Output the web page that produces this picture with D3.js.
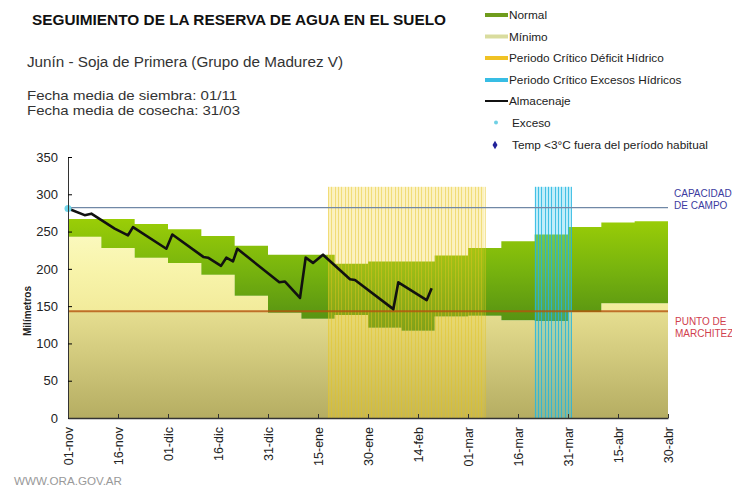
<!DOCTYPE html>
<html>
<head>
<meta charset="utf-8">
<script src="https://cdn.jsdelivr.net/npm/d3@7"></script>
<style>
  body { margin: 0; background: #fff; }
  text { font-family: "Liberation Sans", Arial, sans-serif; }
</style>
</head>
<body>
<svg id="chart" width="732" height="495"></svg>
<script>
// dias desde el 01-nov
const tickDays = [0, 15, 30, 45, 60, 75, 90, 105, 120, 135, 150, 165, 180];
const tickLabels = ['01-nov', '16-nov', '01-dic', '16-dic', '31-dic', '15-ene', '30-ene',
  '14-feb', '01-mar', '16-mar', '31-mar', '15-abr', '30-abr'];
const yTicks = [0, 50, 100, 150, 200, 250, 300, 350];

// bandas por decada
const decadas = [0, 10, 20, 30, 40, 50, 60, 70, 80, 90, 100, 110, 120, 130, 140, 150, 160, 170, 180];
const normalMax = [267, 267, 260, 253, 244, 231, 219, 219, 207, 210, 210, 218, 228, 237, 246, 256, 262, 264];
const normalMin = [243, 228, 215, 208, 192, 164, 141, 133, 138, 121, 117, 136, 137, 131, 130, 142, 154, 154];

// almacenaje
const almDias = [0, 5, 7, 14, 18, 19.5, 29.5, 31.3, 40.6, 42, 45.9, 47.5, 49.5, 50.8, 63.4, 65.1,
  69.6, 71.3, 73.5, 76.5, 84.6, 86.1, 97.6, 99.1, 107.6, 109.1];
const almValores = [281, 272, 274, 254, 245, 256, 227, 246, 216, 215, 204, 215, 210, 227, 182, 183,
  161, 215, 208, 219, 186, 185, 146, 182, 158, 174];

const excesoDias = [0];
const excesoValores = [281];

const capacidadCampo = 282;
const puntoMarchitez = 143;
const periodoDeficit = [78, 125];
const periodoExcesos = [140, 151];
const alturaPeriodo = 310;

const svg = d3.select('#chart');
const x = d3.scaleLinear().domain([0, 180]).range([68, 668]);
const y = d3.scaleLinear().domain([0, 350]).range([418, 157]);

// gradientes
const defs = svg.append('defs');
function gradient(id, stops) {
  const top = y(stops[0][0]), bottom = y(stops[stops.length - 1][0]);
  const g = defs.append('linearGradient').attr('id', id)
    .attr('gradientUnits', 'userSpaceOnUse')
    .attr('x1', 0).attr('x2', 0).attr('y1', top).attr('y2', bottom);
  stops.forEach(s => {
    g.append('stop').attr('offset', (y(s[0]) - top) / (bottom - top)).attr('stop-color', s[1]);
  });
}
gradient('gMin', [[275, '#fdfcc9'], [200, '#f8f4ab'], [144, '#f2eb9b'], [143, '#e6de90'], [0, '#b5ad62']]);
gradient('gNormal', [[270, '#9ccf06'], [200, '#78b40e'], [110, '#4d8914']]);

const bandas = decadas.map((d, i) => ({
  d: d,
  max: normalMax[Math.min(i, normalMax.length - 1)],
  min: normalMin[Math.min(i, normalMin.length - 1)]
}));

svg.append('path').datum(bandas)
  .attr('fill', 'url(#gMin)')
  .attr('d', d3.area().curve(d3.curveStepAfter)
    .x(b => x(b.d)).y0(y(0)).y1(b => y(b.min)));

svg.append('path').datum(bandas)
  .attr('fill', 'url(#gNormal)')
  .attr('d', d3.area().curve(d3.curveStepAfter)
    .x(b => x(b.d)).y0(b => y(b.min)).y1(b => y(b.max)));

// periodos criticos, una barra por dia
function periodo(rango, fill, line, fo, lo) {
  const dias = d3.range(rango[0], rango[1]);
  const g = svg.append('g');
  g.selectAll('rect').data(dias).enter().append('rect')
    .attr('x', d => x(d)).attr('y', y(alturaPeriodo))
    .attr('width', x(1) - x(0)).attr('height', y(0) - y(alturaPeriodo))
    .attr('fill', fill).attr('fill-opacity', fo);
  g.selectAll('line').data(dias.concat([rango[1]])).enter().append('line')
    .attr('x1', d => Math.round(x(d)) + 0.5).attr('x2', d => Math.round(x(d)) + 0.5)
    .attr('y1', y(alturaPeriodo)).attr('y2', y(0))
    .attr('stroke', line).attr('stroke-opacity', lo);
}
periodo(periodoDeficit, '#f2d02a', '#e4c41e', 0.3, 0.45);
periodo(periodoExcesos, '#3cc8ee', '#22b4e0', 0.33, 0.8);

// capacidad de campo / punto de marchitez
svg.append('line')
  .attr('x1', x(0)).attr('x2', x(180))
  .attr('y1', y(capacidadCampo)).attr('y2', y(capacidadCampo))
  .attr('stroke', '#7088a6').attr('stroke-width', 1.2);
svg.append('line')
  .attr('x1', x(0)).attr('x2', x(180))
  .attr('y1', y(puntoMarchitez)).attr('y2', y(puntoMarchitez))
  .attr('stroke', '#b5520e').attr('stroke-opacity', 0.8).attr('stroke-width', 2);

// almacenaje
svg.append('path').datum(almDias.map((d, i) => [d, almValores[i]]))
  .attr('fill', 'none').attr('stroke', '#111').attr('stroke-width', 2.6)
  .attr('stroke-linejoin', 'round')
  .attr('d', d3.line().x(p => x(p[0])).y(p => y(p[1])));

svg.selectAll('circle.exceso').data(excesoDias).enter().append('circle')
  .attr('class', 'exceso')
  .attr('cx', d => x(d)).attr('cy', (d, i) => y(excesoValores[i]))
  .attr('r', 3.5).attr('fill', '#6fd6ea');

// ejes
const yAxis = d3.axisLeft(y).tickValues(yTicks).tickSizeInner(-4).tickSizeOuter(0).tickPadding(10);
const gy = svg.append('g').attr('transform', `translate(${x(0)},0)`).call(yAxis);
gy.selectAll('text').attr('font-size', 13).attr('fill', '#222')
  .attr('font-family', '"Liberation Sans", Arial, sans-serif');
gy.select('.domain').attr('stroke', '#333');

const xAxis = d3.axisBottom(x).tickValues(tickDays).tickFormat((d, i) => tickLabels[i])
  .tickSizeInner(-4).tickSizeOuter(0).tickPadding(0);
const gx = svg.append('g').attr('transform', `translate(0,${y(0)})`).call(xAxis);
gx.select('.domain').attr('stroke', '#333').attr('stroke-width', 1.5);
gx.selectAll('.tick line').attr('stroke', '#333');
gx.selectAll('text')
  .attr('font-size', 12.5).attr('fill', '#222')
  .attr('font-family', '"Liberation Sans", Arial, sans-serif')
  .attr('text-anchor', 'end')
  .attr('transform', 'rotate(-90)')
  .attr('x', -9).attr('y', 0).attr('dy', '0.35em');

svg.append('text')
  .attr('transform', 'translate(31,311) rotate(-90)')
  .attr('text-anchor', 'middle')
  .attr('font-size', 10).attr('font-weight', 'bold').attr('fill', '#222')
  .text('Milímetros');

// textos de cabecera
svg.append('text').attr('x', 32).attr('y', 25)
  .attr('font-size', 14).attr('font-weight', 'bold').attr('fill', '#111')
  .attr('textLength', 414).attr('lengthAdjust', 'spacingAndGlyphs')
  .text('SEGUIMIENTO DE LA RESERVA DE AGUA EN EL SUELO');
svg.append('text').attr('x', 27).attr('y', 67).attr('font-size', 14).attr('fill', '#333')
  .attr('textLength', 316).attr('lengthAdjust', 'spacingAndGlyphs')
  .text('Junín  - Soja de Primera (Grupo de Madurez V)');
svg.append('text').attr('x', 27).attr('y', 99.5).attr('font-size', 13.5).attr('fill', '#333')
  .attr('textLength', 210).attr('lengthAdjust', 'spacingAndGlyphs')
  .text('Fecha media de siembra: 01/11');
svg.append('text').attr('x', 27).attr('y', 114.5).attr('font-size', 13.5).attr('fill', '#333')
  .attr('textLength', 213).attr('lengthAdjust', 'spacingAndGlyphs')
  .text('Fecha media de cosecha: 31/03');

// etiquetas a la derecha
svg.append('text').attr('x', 674).attr('y', 197).attr('font-size', 10).attr('fill', '#3b3ba0').text('CAPACIDAD');
svg.append('text').attr('x', 674).attr('y', 209).attr('font-size', 10).attr('fill', '#3b3ba0').text('DE  CAMPO');
svg.append('text').attr('x', 675).attr('y', 325).attr('font-size', 10).attr('fill', '#d0404e').text('PUNTO  DE');
svg.append('text').attr('x', 675).attr('y', 337).attr('font-size', 10).attr('fill', '#d0404e').text('MARCHITEZ');

svg.append('text').attr('x', 14).attr('y', 485).attr('font-size', 10.5).attr('fill', '#999')
  .attr('textLength', 108).attr('lengthAdjust', 'spacingAndGlyphs')
  .text('WWW.ORA.GOV.AR');

// leyenda
const legendNames = ['Normal', 'Mínimo', 'Periodo Crítico Déficit Hídrico', 'Periodo Crítico Excesos Hídricos',
  'Almacenaje', 'Exceso', 'Temp <3°C fuera del período habitual'];
const legendColors = ['#6f9c1c', '#d9dc9e', '#f0c224', '#38bde4', '#111', '#6fd0e4', '#22229a'];
const legendTypes = ['line', 'line', 'line', 'line', 'thin', 'dot', 'diamond'];
const legendY = [15, 36.5, 58, 80, 101, 122.5, 145];

const lg = svg.append('g').selectAll('g').data(legendNames).enter().append('g')
  .attr('transform', (d, i) => `translate(0,${legendY[i]})`);
lg.each(function (d, i) {
  const g = d3.select(this);
  const t = legendTypes[i];
  if (t === 'line' || t === 'thin') {
    g.append('line').attr('x1', 485).attr('x2', 508).attr('y1', 0).attr('y2', 0)
      .attr('stroke', legendColors[i]).attr('stroke-width', t === 'line' ? 4 : 2);
  } else if (t === 'dot') {
    g.append('circle').attr('cx', 496).attr('cy', 0).attr('r', 2).attr('fill', legendColors[i]);
  } else {
    g.append('path').attr('d', d3.symbol(d3.symbolDiamond, 22)).attr('transform', 'translate(495,0)')
      .attr('fill', legendColors[i]);
  }
  g.append('text').attr('x', t === 'dot' || t === 'diamond' ? 512 : 509).attr('y', 0).attr('dy', '0.35em')
    .attr('font-size', 11.8).attr('fill', '#222').text(d);
});
</script>
</body>
</html>
